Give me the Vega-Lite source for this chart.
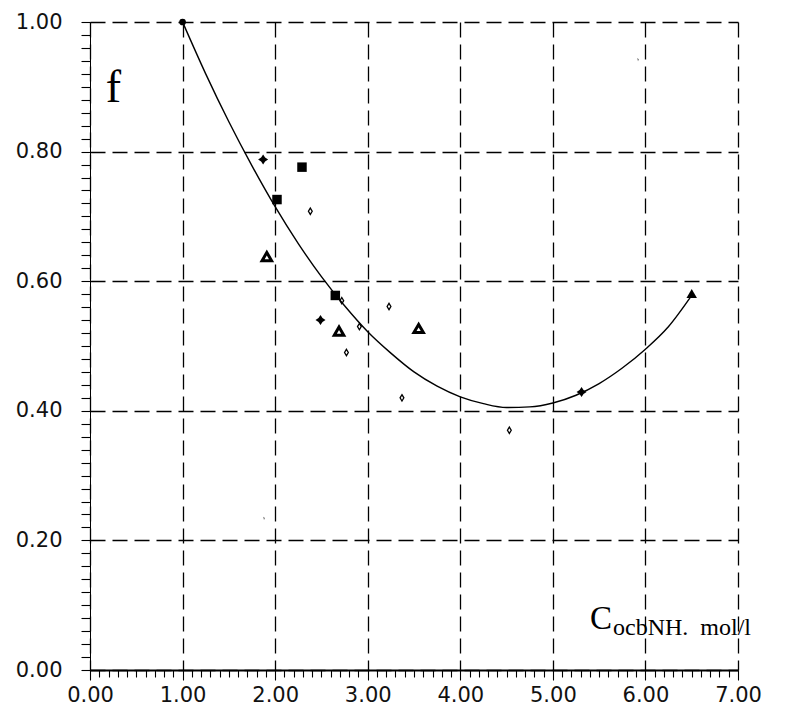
{
  "$schema": "https://vega.github.io/schema/vega-lite/v6.json",
  "width": 648,
  "height": 648,
  "autosize": {"type": "none"},
  "padding": {"left": 90, "top": 22, "right": 47, "bottom": 35},
  "background": "white",
  "config": {"view": {"stroke": null}},
  "datasets": {
    "points": [
      {"x": 1.0, "y": 1.0, "kind": "circle"},
      {"x": 1.87, "y": 0.788, "kind": "fdiamond"},
      {"x": 2.49, "y": 0.54, "kind": "fdiamond"},
      {"x": 5.31, "y": 0.429, "kind": "fdiamond"},
      {"x": 2.29, "y": 0.776, "kind": "square"},
      {"x": 2.02, "y": 0.726, "kind": "square"},
      {"x": 2.65, "y": 0.578, "kind": "square"},
      {"x": 2.38, "y": 0.708, "kind": "odiamond"},
      {"x": 2.72, "y": 0.57, "kind": "odiamond"},
      {"x": 3.23, "y": 0.561, "kind": "odiamond"},
      {"x": 2.91, "y": 0.53, "kind": "odiamond"},
      {"x": 2.77, "y": 0.49, "kind": "odiamond"},
      {"x": 3.37, "y": 0.42, "kind": "odiamond"},
      {"x": 4.53, "y": 0.37, "kind": "odiamond"},
      {"x": 1.91, "y": 0.638, "kind": "otriangle"},
      {"x": 2.69, "y": 0.523, "kind": "otriangle"},
      {"x": 3.55, "y": 0.527, "kind": "otriangle"},
      {"x": 6.5, "y": 0.581, "kind": "ftriangle"},
      {"x": 5.92, "y": 0.942, "kind": "speck"},
      {"x": 1.88, "y": 0.234, "kind": "speck"}
    ],
    "curve": [
      {"x": 1.0, "y": 1.0},
      {"x": 1.25, "y": 0.92},
      {"x": 1.5, "y": 0.846},
      {"x": 1.75, "y": 0.778},
      {"x": 2.0, "y": 0.715},
      {"x": 2.25, "y": 0.658},
      {"x": 2.5, "y": 0.607},
      {"x": 2.75, "y": 0.562},
      {"x": 3.0, "y": 0.522},
      {"x": 3.25, "y": 0.489},
      {"x": 3.5, "y": 0.46},
      {"x": 3.75, "y": 0.438},
      {"x": 4.0, "y": 0.4215},
      {"x": 4.25, "y": 0.411},
      {"x": 4.5, "y": 0.405},
      {"x": 4.75, "y": 0.406},
      {"x": 5.0, "y": 0.412},
      {"x": 5.25, "y": 0.424},
      {"x": 5.5, "y": 0.442},
      {"x": 5.75, "y": 0.466},
      {"x": 6.0, "y": 0.495},
      {"x": 6.25, "y": 0.53},
      {"x": 6.5, "y": 0.578}
    ],
    "labels": [
      {"x": 0.17, "y": 0.876, "text": "f", "role": "ylab"},
      {"x": 5.4, "y": 0.064, "text": "C", "role": "xlabC"},
      {"x": 5.65, "y": 0.054, "text": "ocbNH.\u00a0\u00a0mol/l", "role": "xlabSub"}
    ]
  },
  "layer": [
    {
      "data": {"name": "curve"},
      "mark": {"type": "line", "color": "black", "strokeWidth": 1.4, "interpolate": "monotone"},
      "encoding": {
        "x": {
          "field": "x", "type": "quantitative",
          "scale": {"domain": [0, 7], "nice": false, "zero": false},
          "axis": {
            "orient": "bottom", "title": null, "tickCount": 500,
            "values": [0,0.1,0.2,0.3,0.4,0.5,0.6,0.7,0.8,0.9,1,1.1,1.2,1.3,1.4,1.5,1.6,1.7,1.8,1.9,2,2.1,2.2,2.3,2.4,2.5,2.6,2.7,2.8,2.9,3,3.1,3.2,3.3,3.4,3.5,3.6,3.7,3.8,3.9,4,4.1,4.2,4.3,4.4,4.5,4.6,4.7,4.8,4.9,5,5.1,5.2,5.3,5.4,5.5,5.6,5.7,5.8,5.9,6,6.1,6.2,6.3,6.4,6.5,6.6,6.7,6.8,6.9,7],
            "labelExpr": "abs(datum.value - round(datum.value)) < 0.001 ? format(datum.value, '.2f') : ''",
            "labelOverlap": false,
            "grid": true, "gridColor": "black", "gridDash": [15, 7], "gridWidth": 1.3,
            "gridOpacity": {"condition": {"test": "abs(datum.value - round(datum.value)) < 0.001", "value": 1}, "value": 0},
            "domain": true, "domainColor": "black", "domainWidth": 2,
            "ticks": true, "tickColor": "black", "tickWidth": 1.1,
            "tickSize": {"condition": {"test": "abs(datum.value - round(datum.value)) < 0.001", "value": 10}, "value": 7},
            "labelFont": "DejaVu Sans", "labelFontSize": 21, "labelColor": "#111", "labelPadding": 4,
            "labelFlush": false
          }
        },
        "y": {
          "field": "y", "type": "quantitative",
          "scale": {"domain": [0, 1], "nice": false, "zero": false},
          "axis": {
            "orient": "left", "title": null, "tickCount": 500,
            "values": [0,0.02,0.04,0.06,0.08,0.1,0.12,0.14,0.16,0.18,0.2,0.22,0.24,0.26,0.28,0.3,0.32,0.34,0.36,0.38,0.4,0.42,0.44,0.46,0.48,0.5,0.52,0.54,0.56,0.58,0.6,0.62,0.64,0.66,0.68,0.7,0.72,0.74,0.76,0.78,0.8,0.82,0.84,0.86,0.88,0.9,0.92,0.94,0.96,0.98,1],
            "labelExpr": "abs(datum.value * 5 - round(datum.value * 5)) < 0.001 ? format(datum.value, '.2f') : ''",
            "labelOverlap": false,
            "grid": true, "gridColor": "black", "gridDash": [15, 7], "gridWidth": 1.3,
            "gridOpacity": {"condition": {"test": "abs(datum.value * 5 - round(datum.value * 5)) < 0.001", "value": 1}, "value": 0},
            "domain": true, "domainColor": "black", "domainWidth": 1,
            "ticks": true, "tickColor": "black", "tickWidth": 1.1,
            "tickSize": 9,
            "labelFont": "DejaVu Sans", "labelFontSize": 21, "labelColor": "#111", "labelPadding": 19,
            "labelFlush": false
          }
        }
      }
    },
    {
      "data": {"name": "points"},
      "transform": [{"filter": "datum.kind === 'speck'"}],
      "mark": {"type": "point", "shape": "M-0.6,-1L0.6,-0.2L0,1Z", "filled": true, "color": "#333", "size": 10},
      "encoding": {
        "x": {"field": "x", "type": "quantitative"},
        "y": {"field": "y", "type": "quantitative"}
      }
    },
    {
      "data": {"name": "points"},
      "transform": [{"filter": "datum.kind === 'circle'"}],
      "mark": {"type": "point", "shape": "circle", "filled": true, "color": "black", "size": 45, "opacity": 1},
      "encoding": {
        "x": {"field": "x", "type": "quantitative"},
        "y": {"field": "y", "type": "quantitative"}
      }
    },
    {
      "data": {"name": "points"},
      "transform": [{"filter": "datum.kind === 'fdiamond'"}],
      "mark": {"type": "point", "shape": "M0,-1L0.4,-0.4L1,0L0.4,0.4L0,1L-0.4,0.4L-1,0L-0.4,-0.4Z", "filled": true, "color": "black", "size": 100, "opacity": 1},
      "encoding": {
        "x": {"field": "x", "type": "quantitative"},
        "y": {"field": "y", "type": "quantitative"}
      }
    },
    {
      "data": {"name": "points"},
      "transform": [{"filter": "datum.kind === 'square'"}],
      "mark": {"type": "point", "shape": "square", "filled": true, "color": "black", "size": 90, "opacity": 1},
      "encoding": {
        "x": {"field": "x", "type": "quantitative"},
        "y": {"field": "y", "type": "quantitative"}
      }
    },
    {
      "data": {"name": "points"},
      "transform": [{"filter": "datum.kind === 'odiamond'"}],
      "mark": {"type": "point", "shape": "M0,-1L0.6,0L0,1L-0.6,0Z", "filled": false, "color": "black", "strokeWidth": 1.3, "size": 40, "opacity": 1},
      "encoding": {
        "x": {"field": "x", "type": "quantitative"},
        "y": {"field": "y", "type": "quantitative"}
      }
    },
    {
      "data": {"name": "points"},
      "transform": [{"filter": "datum.kind === 'otriangle'"}],
      "mark": {"type": "point", "shape": "triangle-up", "filled": false, "color": "black", "strokeWidth": 3, "size": 90, "opacity": 1},
      "encoding": {
        "x": {"field": "x", "type": "quantitative"},
        "y": {"field": "y", "type": "quantitative"}
      }
    },
    {
      "data": {"name": "points"},
      "transform": [{"filter": "datum.kind === 'ftriangle'"}],
      "mark": {"type": "point", "shape": "triangle-up", "filled": true, "color": "black", "size": 110, "opacity": 1},
      "encoding": {
        "x": {"field": "x", "type": "quantitative"},
        "y": {"field": "y", "type": "quantitative"}
      }
    },
    {
      "data": {"name": "labels"},
      "transform": [{"filter": "datum.role === 'ylab'"}],
      "mark": {"type": "text", "font": "Liberation Serif", "fontSize": 46, "align": "left", "baseline": "alphabetic", "color": "black"},
      "encoding": {
        "x": {"field": "x", "type": "quantitative"},
        "y": {"field": "y", "type": "quantitative"},
        "text": {"field": "text"}
      }
    },
    {
      "data": {"name": "labels"},
      "transform": [{"filter": "datum.role === 'xlabC'"}],
      "mark": {"type": "text", "font": "Liberation Serif", "fontSize": 33, "align": "left", "baseline": "alphabetic", "color": "black"},
      "encoding": {
        "x": {"field": "x", "type": "quantitative"},
        "y": {"field": "y", "type": "quantitative"},
        "text": {"field": "text"}
      }
    },
    {
      "data": {"name": "labels"},
      "transform": [{"filter": "datum.role === 'xlabSub'"}],
      "mark": {"type": "text", "font": "Liberation Serif", "fontSize": 24, "align": "left", "baseline": "alphabetic", "color": "black"},
      "encoding": {
        "x": {"field": "x", "type": "quantitative"},
        "y": {"field": "y", "type": "quantitative"},
        "text": {"field": "text"}
      }
    }
  ]
}
